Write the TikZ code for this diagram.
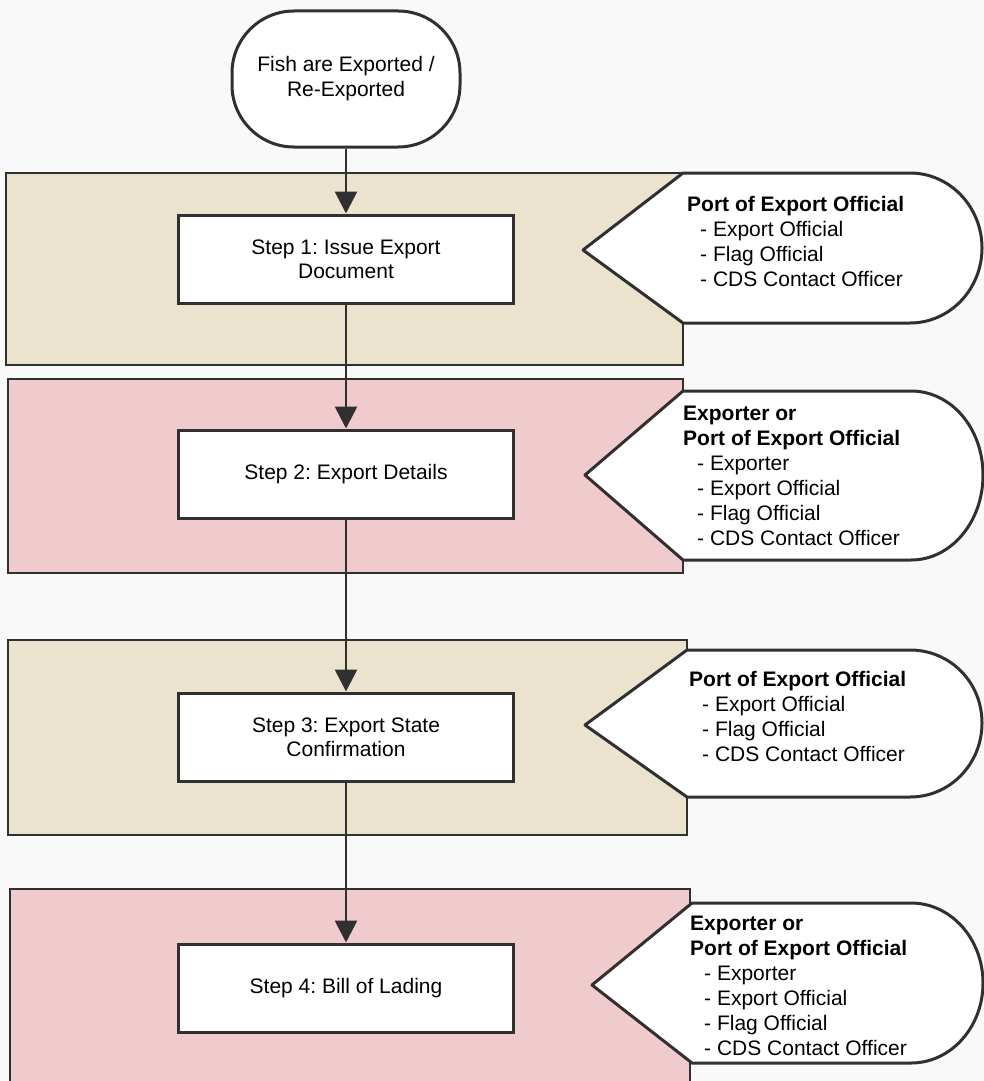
\documentclass[tikz,border=0pt]{standalone}
\usepackage{fontspec}
\setmainfont{Liberation Sans}
\frenchspacing
\usetikzlibrary{arrows.meta}
\definecolor{tanband}{RGB}{236,227,206}
\definecolor{pinkband}{RGB}{240,203,205}
\definecolor{inkgray}{RGB}{48,48,48}
\definecolor{scanbg}{RGB}{249,249,249}
\begin{document}
\begin{tikzpicture}[x=1pt,y=-1pt,
    stepbox/.style={draw=inkgray,line width=3pt,fill=white,minimum width=335pt,minimum height=88pt,align=center,font=\fontsize{21}{24}\selectfont},
    startbox/.style={draw=inkgray,line width=3pt,fill=white,rounded corners=62pt,minimum width=228pt,minimum height=136pt,align=center,font=\fontsize{21}{25}\selectfont},
    band/.style={draw=inkgray,line width=2.5pt},
    callout/.style={draw=inkgray,line width=3pt,fill=white,line join=round},
    who/.style={anchor=base west,align=left,inner sep=0pt,font=\fontsize{21}{25}\selectfont},
    flow/.style={draw=inkgray,line width=2.8pt,-{Triangle[length=22pt,width=22pt]}}]
		\fill[scanbg] (0,0) rectangle (984,1081);
		\useasboundingbox (0,0) rectangle (984,1081);
		
		% coloured bands
		\draw[band,fill=tanband] (6,173) rectangle (683,365);
		\draw[band,fill=pinkband] (8,379) rectangle (683,573);
		\draw[band,fill=tanband] (8,640) rectangle (687,835);
		\draw[band,fill=pinkband] (10,889) rectangle (690,1095);
		
		% callouts
		\draw[callout] (683,173) -- (910,173) .. controls (950,173) and (982,207) .. (982,248) .. controls (982,289) and (950,323) .. (910,323) -- (683,323) -- (583,250) -- cycle;
		\draw[callout] (683,391) -- (911,391) .. controls (951,391) and (983,428) .. (983,475) .. controls (983,522) and (951,560) .. (911,560) -- (683,560) -- (585,475) -- cycle;
		\draw[callout] (687,650) -- (910,650) .. controls (950,650) and (982,682) .. (982,723) .. controls (982,764) and (950,797) .. (910,797) -- (687,797) -- (585,725) -- cycle;
		\draw[callout] (692,903) -- (911,903) .. controls (951,903) and (983,939) .. (983,983) .. controls (983,1027) and (951,1063) .. (911,1063) -- (692,1063) -- (592,985) -- cycle;
		
		% who does it (placed at the last baseline)
		\node[who] (W1) at (687,286) {\textbf{Port of Export Official}\\\hspace*{13pt}- Export Official\\\hspace*{13pt}- Flag Official\\\hspace*{13pt}- CDS Contact Officer};
		\node[who] (W2) at (683,545) {\textbf{Exporter or}\\\textbf{Port of Export Official}\\\hspace*{14pt}- Exporter\\\hspace*{14pt}- Export Official\\\hspace*{14pt}- Flag Official\\\hspace*{14pt}- CDS Contact Officer};
		\node[who] (W3) at (689,761) {\textbf{Port of Export Official}\\\hspace*{13pt}- Export Official\\\hspace*{13pt}- Flag Official\\\hspace*{13pt}- CDS Contact Officer};
		\node[who] (W4) at (690,1055) {\textbf{Exporter or}\\\textbf{Port of Export Official}\\\hspace*{14pt}- Exporter\\\hspace*{14pt}- Export Official\\\hspace*{14pt}- Flag Official\\\hspace*{14pt}- CDS Contact Officer};
		
		% flow
		\node[startbox] (T) at (346,79) {Fish are Exported /\\Re-Exported};
		\node[stepbox] (S1) at (346,259) {Step 1: Issue Export\\Document};
		\node[stepbox] (S2) at (346,474) {Step 2: Export Details};
		\node[stepbox] (S3) at (346,737) {Step 3: Export State\\Confirmation};
		\node[stepbox] (S4) at (346,988) {Step 4: Bill of Lading};
		
		\draw[flow] (T)--(S1);
		\draw[flow] (S1)--(S2);
		\draw[flow] (S2)--(S3);
		\draw[flow] (S3)--(S4);
\end{tikzpicture}
\end{document}
